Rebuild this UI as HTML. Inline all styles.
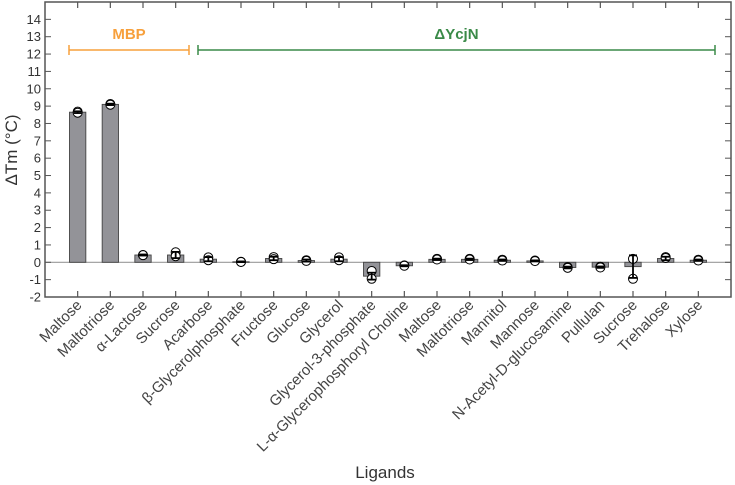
<!DOCTYPE html>
<html><head><meta charset="utf-8"><style>
body{margin:0;background:#fff}
svg{display:block;font-family:"Liberation Sans",Arial,sans-serif}
</style></head><body>
<svg id="chart" width="735" height="485"></svg>
<script>
const categories=["Maltose","Maltotriose","\u03b1-Lactose","Sucrose","Acarbose","\u03b2-Glycerolphosphate","Fructose","Glucose","Glycerol","Glycerol-3-phosphate","L-\u03b1-Glycerophosphoryl Choline","Maltose","Maltotriose","Mannitol","Mannose","N-Acetyl-D-glucosamine","Pullulan","Sucrose","Trehalose","Xylose"];
const meanValues=[8.65,9.1,0.42,0.42,0.18,0.03,0.22,0.1,0.18,-0.8,-0.2,0.17,0.17,0.12,0.08,-0.3,-0.28,-0.25,0.22,0.12];
const errValues=[0.05,0.04,0.03,0.18,0.12,0.02,0.1,0.06,0.12,0.2,0.03,0.04,0.04,0.04,0.03,0.05,0.04,0.65,0.1,0.04];
const pointA=[8.68,9.12,0.42,0.58,0.28,0.03,0.3,0.12,0.28,-0.5,-0.18,0.2,0.2,0.15,0.1,-0.28,-0.26,0.2,0.3,0.15];
const pointB=[8.62,9.08,0.41,0.35,0.12,0.02,0.18,0.08,0.12,-0.95,-0.2,0.16,0.16,0.1,0.07,-0.32,-0.3,-0.95,0.25,0.1];
const yTicks=[-2,-1,0,1,2,3,4,5,6,7,8,9,10,11,12,13,14];
const NS="http://www.w3.org/2000/svg";
const svg=document.getElementById("chart");
const L=45,R=731,T=2,B=297,yMin=-2,yMax=15;
const xs=i=>L+(R-L)*(i+1)/(categories.length+1);
const ys=v=>B-(v-yMin)/(yMax-yMin)*(B-T);
function mk(tag,attrs,parent){const e=document.createElementNS(NS,tag);for(const k in attrs)e.setAttribute(k,attrs[k]);(parent||svg).appendChild(e);return e;}
const bw=(R-L)/(categories.length+1)*0.5;
const z=mk("line",{x1:L,x2:R,y1:ys(0),y2:ys(0),stroke:"#999","stroke-width":1.2});


categories.forEach((c,i)=>{
  const x=xs(i),v=meanValues[i];
  const g=mk("g",{});
  
  
  mk("rect",{x:x-bw/2,y:Math.min(ys(v),ys(0)),width:bw,height:Math.abs(ys(v)-ys(0)),fill:"#939398",stroke:"#444","stroke-width":0.9},g);
  [pointA[i],pointB[i]].forEach(p=>{mk("circle",{cx:x,cy:ys(p),r:4.5,fill:"#fff",stroke:"#000","stroke-width":1},g);});
  const e=errValues[i];
  mk("line",{x1:x,x2:x,y1:ys(v-e),y2:ys(v+e),stroke:"#000","stroke-width":1.8},g);
  mk("line",{x1:x-4,x2:x+4,y1:ys(v-e),y2:ys(v-e),stroke:"#000","stroke-width":1.8},g);
  mk("line",{x1:x-4,x2:x+4,y1:ys(v+e),y2:ys(v+e),stroke:"#000","stroke-width":1.8},g);
  const t=mk("text",{x:x+5,y:306,"font-size":15,fill:"#444","text-anchor":"end",transform:`rotate(-45 ${x+5} 306)`});
  t.textContent=c;
  
  
  mk("line",{x1:x,x2:x,y1:B,y2:B-6,stroke:"#555","stroke-width":1.2});
  mk("line",{x1:x,x2:x,y1:T,y2:T+6,stroke:"#555","stroke-width":1.2});
});
yTicks.forEach(v=>{
  const y=ys(v);
  mk("line",{x1:L,x2:L+6,y1:y,y2:y,stroke:"#555"});
  mk("line",{x1:R,x2:R-6,y1:y,y2:y,stroke:"#555"});
  const t=mk("text",{x:L-4,y:y+4.5,"font-size":13,fill:"#333","text-anchor":"end"});
  t.textContent=v;
  
  
});
const box=mk("rect",{x:L,y:T,width:R-L,height:B-T,fill:"none",stroke:"#555","stroke-width":1.5});


function bracket(x1,x2,color,label,name){
  const g=mk("g",{});
  
  
  mk("line",{x1:x1,x2:x2,y1:50,y2:50,stroke:color,"stroke-width":1.5},g);
  mk("line",{x1:x1,x2:x1,y1:45,y2:55,stroke:color,"stroke-width":1.5},g);
  mk("line",{x1:x2,x2:x2,y1:45,y2:55,stroke:color,"stroke-width":1.5},g);
  const t=mk("text",{x:(x1+x2)/2,y:39,"font-size":15,"font-weight":"bold",fill:color,"text-anchor":"middle"},g);
  t.textContent=label;
}
bracket(69,189,"#f7a03c","MBP","mbp-bracket");
bracket(198,715,"#3a8a48","\u0394YcjN","ycjn-bracket");
const xl=mk("text",{x:385,y:478,"font-size":17,fill:"#333","text-anchor":"middle"});
xl.textContent="Ligands";


const yl=mk("text",{x:17,y:150,"font-size":17,fill:"#333","text-anchor":"middle",transform:"rotate(-90 17 150)"});
yl.textContent="\u0394Tm (\u00b0C)";


</script>
</body></html>
